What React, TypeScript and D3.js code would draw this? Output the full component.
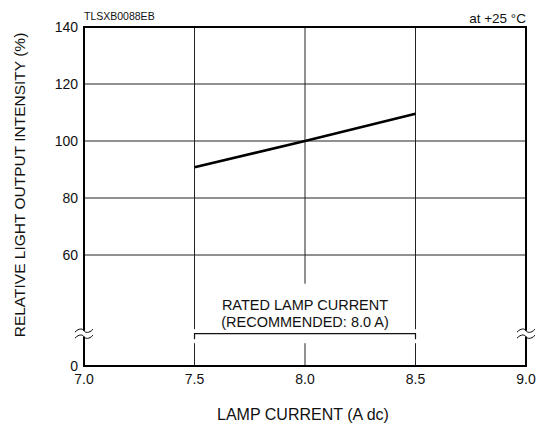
import React from "react";
import * as d3 from "d3";

const xTicks = [7.0, 7.5, 8.0, 8.5, 9.0];
const xTickLabels = ["7.0", "7.5", "8.0", "8.5", "9.0"];
const yTicks = [0, 60, 80, 100, 120, 140];
const yGrid = [60, 80, 100, 120];
const xGrid = [7.5, 8.0, 8.5];
const currentA = [7.5, 8.0, 8.5];
const intensityPct = [90.8, 100, 109.6];
const ratedRange = [7.5, 8.5];
const breakValue = 18;

const W = 537;
const H = 434;
const L = 84, R = 526, T = 27, B = 366;
const FONT = "Liberation Sans, Arial, Helvetica, sans-serif";

export default function App() {
  const x = d3.scaleLinear().domain([7, 9]).range([L, R]);
  const y = d3.scaleLinear().domain([0, 60, 140]).range([B, 255, T]);
  const line = d3
    .line<number>()
    .x((_, i) => x(currentA[i]))
    .y((d) => y(d));
  const by = y(breakValue) + 1; // bracket / break y

  const wave = (cx: number, cy: number) =>
    `M ${cx - 9} ${cy + 1.5} C ${cx - 5} ${cy - 3}, ${cx - 1} ${cy - 2}, ${cx} ${cy} S ${cx + 5} ${cy + 3}, ${cx + 9} ${cy - 1.5}`;

  const breakMark = (cx: number) => (
    <g key={cx}>
      <rect x={cx - 2} y={by - 3} width={4} height={6} fill="#fff" />
      <path d={wave(cx, by - 3)} fill="none" stroke="#000" strokeWidth={1} />
      <path d={wave(cx, by + 3)} fill="none" stroke="#000" strokeWidth={1} />
    </g>
  );

  return (
    <svg
      width={W}
      height={H}
      style={{ position: "absolute", left: 0, top: 0, background: "#fff" }}
      fontFamily={FONT}
    >
      <rect x={0} y={0} width={W} height={H} fill="#fff" />
      {/* horizontal grid */}
      {yGrid.map((v) => (
        <line key={v} x1={L} x2={R} y1={y(v)} y2={y(v)} stroke="#222" strokeWidth={1} />
      ))}
      {/* vertical grid with gaps */}
      {xGrid.map((v) => {
        const isEdge = v === ratedRange[0] || v === ratedRange[1];
        const upperEnd = isEdge ? by - 4.5 : by - 50;
        return (
          <g key={v}>
            <line x1={x(v)} x2={x(v)} y1={T} y2={upperEnd} stroke="#222" strokeWidth={1} />
            <line x1={x(v)} x2={x(v)} y1={by + 9.5} y2={B} stroke="#222" strokeWidth={1} />
          </g>
        );
      })}
      {/* bracket */}
      <path
        d={`M ${x(ratedRange[0])} ${by + 5.5} V ${by} H ${x(ratedRange[1])} V ${by + 5.5}`}
        fill="none"
        stroke="#111"
        strokeWidth={1.2}
      />
      <text x={x(8)} y={310} fontSize={14.5} textAnchor="middle" fill="#111">
        RATED LAMP CURRENT
      </text>
      <text x={x(8)} y={326.5} fontSize={14.5} textAnchor="middle" fill="#111">
        (RECOMMENDED: 8.0 A)
      </text>
      {/* data line */}
      <path d={line(intensityPct) || ""} fill="none" stroke="#000" strokeWidth={2.6} />
      {/* frame */}
      <rect x={L} y={T} width={R - L} height={B - T} fill="none" stroke="#000" strokeWidth={2} />
      {breakMark(L)}
      {breakMark(R)}
      {/* y tick labels */}
      {yTicks.map((v) => (
        <text key={v} x={L - 6} y={y(v) + 5} fontSize={14} textAnchor="end" fill="#111">
          {v}
        </text>
      ))}
      {/* x tick labels */}
      {xTicks.map((v, i) => (
        <text key={v} x={x(v)} y={384} fontSize={14} textAnchor="middle" fill="#111">
          {xTickLabels[i]}
        </text>
      ))}
      <text x={(L + R) / 2 - 2} y={420} fontSize={16} textAnchor="middle" fill="#111">
        LAMP CURRENT (A dc)
      </text>
      <text
        transform={`translate(25, 185) rotate(-90)`}
        fontSize={15.5}
        textAnchor="middle"
        fill="#111"
      >
        RELATIVE LIGHT OUTPUT INTENSITY (%)
      </text>
      <text x={L} y={20} fontSize={10.5} fill="#111">
        TLSXB0088EB
      </text>
      <text x={R} y={23} fontSize={13.5} textAnchor="end" fill="#111">
        at +25 °C
      </text>
    </svg>
  );
}
